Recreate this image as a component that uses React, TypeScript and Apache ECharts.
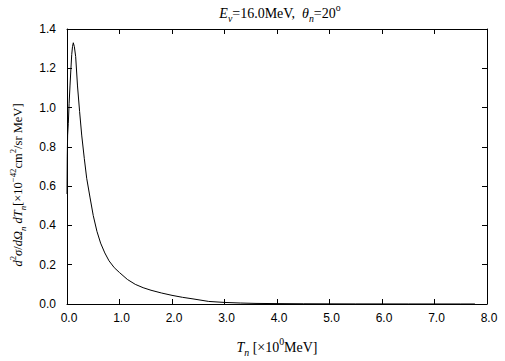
import React, { useEffect, useRef } from "react";
import * as echarts from "echarts";

const T_N: number[] = [0, 0.005, 0.012, 0.025, 0.04, 0.057, 0.075, 0.09, 0.105, 0.12, 0.14, 0.165, 0.2, 0.24, 0.28, 0.33, 0.375, 0.44, 0.5, 0.57, 0.64, 0.72, 0.8, 0.9, 1.0, 1.15, 1.3, 1.45, 1.6, 1.8, 2.0, 2.2, 2.4, 2.7, 3.0, 3.3, 3.6, 4.0, 4.5, 5.0, 5.5, 6.0, 6.5, 7.0, 7.5, 7.77];
const SIGMA: number[] = [0.56, 0.75, 0.86, 0.92, 1.02, 1.11, 1.2, 1.27, 1.31, 1.33, 1.31, 1.26, 1.11, 0.98, 0.86, 0.74, 0.64, 0.54, 0.45, 0.37, 0.31, 0.26, 0.22, 0.185, 0.16, 0.125, 0.1, 0.083, 0.07, 0.056, 0.044, 0.034, 0.026, 0.013, 0.008, 0.005, 0.003, 0.002, 0.0012, 0.0008, 0.0005, 0.0004, 0.0003, 0.0002, 0.0001, 0.0001];

const X_MIN = 0, X_MAX = 8, X_STEP = 1;
const Y_MIN = 0, Y_MAX = 1.4, Y_STEP = 0.2;

const TITLE = "{i|E}{s|ν}{n|=16.0MeV,  }{i|θ}{s|n}{n|=20}{p|o}";
const X_NAME = "{i|T}{s|n}{n| [×10}{p|0}{n|MeV]}";
const Y_NAME = "{i|d}{p|2}{i|σ}{n|/}{i|dΩ}{s|n}{n| }{i|dT}{s|n}{n|[×10}{p|−42}{n|cm}{p|2}{n|/sr MeV]}";

const SERIF = "'Liberation Serif', 'DejaVu Serif', serif";
const SANS = "'Liberation Sans', 'DejaVu Sans', sans-serif";

const makeRich = (fs: number) => ({
  n: { fontFamily: SERIF, fontSize: fs, lineHeight: fs * 1.5, fill: "#000", color: "#000" },
  i: { fontFamily: SERIF, fontSize: fs, fontStyle: "italic", lineHeight: fs * 1.5, fill: "#000", color: "#000" },
  s: { fontFamily: SERIF, fontSize: fs * 0.7, fontStyle: "italic", lineHeight: fs * 0.75, verticalAlign: "bottom", fill: "#000", color: "#000" },
  p: { fontFamily: SERIF, fontSize: fs * 0.7, lineHeight: fs * 0.75, verticalAlign: "top", fill: "#000", color: "#000" },
});

export default function App() {
  const ref = useRef<HTMLDivElement>(null);
  useEffect(() => {
    if (!ref.current) return;
    const chart = echarts.init(ref.current, undefined, { renderer: "svg" });
    const axisCommon = {
      axisLine: { onZero: false, lineStyle: { color: "#000", width: 1 } },
      axisTick: { inside: true, length: 5, lineStyle: { color: "#000", width: 1 } },
      splitLine: { show: false },
    };
    const labelStyle = { color: "#000", fontFamily: SANS, fontSize: 12 };
    chart.setOption({
      animation: false,
      backgroundColor: "#fff",
      grid: { left: 67, right: 18, top: 29, bottom: 57, containLabel: false },
      xAxis: [
        {
          type: "value", min: X_MIN, max: X_MAX, interval: X_STEP, position: "bottom",
          ...axisCommon,
          axisLabel: { ...labelStyle, margin: 8, padding: [0, 0, 0, 4], formatter: (v: number) => v.toFixed(1) },
        },
        {
          type: "value", min: X_MIN, max: X_MAX, interval: X_STEP, position: "top",
          ...axisCommon, axisLabel: { show: false },
        },
      ],
      yAxis: [
        {
          type: "value", min: Y_MIN, max: Y_MAX, interval: Y_STEP, position: "left",
          ...axisCommon,
          axisLabel: { ...labelStyle, margin: 11, formatter: (v: number) => v.toFixed(1) },
        },
        {
          type: "value", min: Y_MIN, max: Y_MAX, interval: Y_STEP, position: "right",
          ...axisCommon, axisLabel: { show: false },
        },
      ],
      series: [
        {
          type: "line",
          xAxisIndex: 0,
          yAxisIndex: 0,
          data: T_N.map((t, i) => [t, SIGMA[i]]),
          showSymbol: false,
          symbol: "none",
          lineStyle: { color: "#000", width: 1 },
          silent: true,
        },
      ],
      graphic: [
        {
          type: "text", x: 280, y: 13,
          style: { text: TITLE, rich: makeRich(14), align: "center", verticalAlign: "middle", textAlign: "center", textVerticalAlign: "middle" },
        },
        {
          type: "text", x: 277, y: 347,
          style: { text: X_NAME, rich: makeRich(14), align: "center", verticalAlign: "middle", textAlign: "center", textVerticalAlign: "middle" },
        },
        {
          type: "text", x: 18, y: 185, rotation: Math.PI / 2,
          style: { text: Y_NAME, rich: makeRich(12.5), align: "center", verticalAlign: "middle", textAlign: "center", textVerticalAlign: "middle" },
        },
      ],
    });
    return () => chart.dispose();
  }, []);
  return <div ref={ref} style={{ width: 505, height: 361, position: "fixed", left: 0, top: 0 }} />;
}
